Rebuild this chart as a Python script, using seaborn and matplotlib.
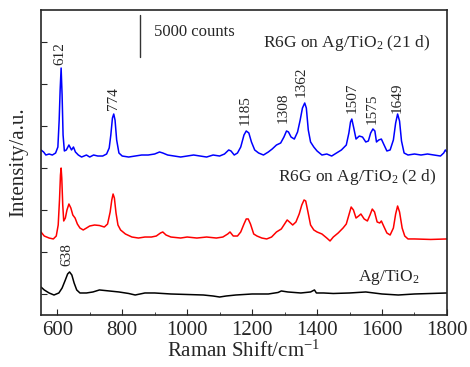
import numpy as np
import pandas as pd
import matplotlib
matplotlib.use("Agg")
import matplotlib.pyplot as plt
import seaborn as sns

# Raman spectra (counts)
shift_agtio2 = [550, 560, 575, 590, 605, 615, 625, 632, 638, 645, 652, 660, 670, 690, 710, 730, 760, 790,
                820, 840, 870, 900, 950, 1000, 1050, 1080, 1100, 1120, 1150, 1200, 1250, 1280, 1290, 1310,
                1350, 1380, 1392, 1398, 1420, 1450, 1500, 1550, 1600, 1650, 1700, 1750, 1800]
int_agtio2 = [830, 480, 120, -120, 120, 710, 1670, 2380, 2620, 2260, 1310, 480, 120, 120, 240, 480, 360, 240,
              60, -120, 120, 120, 0, -60, -120, -240, -360, -240, -120, 0, 0, 180, 360, 240,
              120, 240, 480, 120, 120, 60, 120, 240, 0, -120, 0, 60, 120]

shift_2d = [550, 560, 575, 588, 597, 603, 607, 610, 612, 614, 617, 620, 625, 630, 636, 642, 648, 655, 662,
            670, 680, 690, 700, 715, 730, 745, 755, 763, 768, 772, 776, 781, 787, 795, 810, 830, 850, 870,
            890, 905, 918, 925, 935, 950, 980, 1000, 1030, 1060, 1090, 1110, 1125, 1132, 1142, 1155, 1165,
            1175, 1182, 1188, 1195, 1205, 1215, 1230, 1245, 1260, 1275, 1290, 1300, 1308, 1315, 1325, 1335,
            1345, 1353, 1360, 1365, 1372, 1380, 1390, 1400, 1415, 1430, 1440, 1450, 1465, 1480, 1490, 1498,
            1505, 1512, 1520, 1528, 1535, 1545, 1555, 1563, 1570, 1577, 1585, 1593, 1598, 1605, 1615, 1625,
            1635, 1642, 1648, 1654, 1662, 1670, 1680, 1700, 1750, 1800]
int_2d = [7380, 6900, 6660, 6550, 6900, 8210, 11190, 14160, 14990, 13800, 10590, 8690, 9040, 10000, 10710,
          10230, 9400, 9040, 8330, 7850, 7620, 7850, 8090, 8210, 8150, 7970, 8330, 9760, 11190, 11900, 11420,
          9640, 8210, 7620, 7140, 6780, 6660, 6780, 6780, 6900, 7260, 7380, 7020, 6780, 6660, 6780, 6660,
          6780, 6660, 6780, 7140, 7380, 6900, 6900, 7380, 8330, 8930, 8930, 8330, 7140, 6900, 6660, 6550,
          6780, 7380, 7740, 8330, 8810, 8570, 8210, 8570, 9520, 10590, 11190, 11070, 9760, 8210, 7620, 7380,
          7140, 6660, 6310, 6780, 7260, 7850, 8330, 9400, 10350, 10000, 9040, 9280, 9520, 8930, 8690, 9400,
          10110, 9760, 8570, 8450, 8690, 8090, 7260, 7020, 7850, 9520, 10470, 9760, 7850, 6900, 6550, 6550,
          6490, 6550]

shift_21d = [550, 558, 565, 575, 585, 595, 602, 606, 609, 612, 615, 618, 622, 628, 636, 644, 650, 656, 665,
             675, 690, 700, 712, 725, 740, 752, 760, 765, 770, 774, 778, 783, 790, 800, 820, 840, 860, 880,
             900, 915, 925, 940, 960, 980, 1000, 1020, 1040, 1060, 1080, 1100, 1115, 1128, 1135, 1145, 1155,
             1165, 1175, 1182, 1190, 1198, 1208, 1220, 1235, 1250, 1262, 1275, 1288, 1298, 1306, 1312, 1320,
             1330, 1340, 1348, 1355, 1362, 1367, 1373, 1380, 1390, 1400, 1415, 1430, 1445, 1460, 1475, 1490,
             1498, 1503, 1507, 1513, 1520, 1530, 1540, 1550, 1558, 1565, 1572, 1578, 1583, 1590, 1598, 1605,
             1615, 1625, 1635, 1642, 1648, 1654, 1660, 1668, 1680, 1700, 1720, 1740, 1760, 1780, 1790, 1795,
             1800]
int_21d = [17140, 16900, 16540, 16660, 16540, 16780, 17490, 20700, 24280, 26890, 23690, 18920, 17020, 17140,
           17730, 17140, 17490, 16900, 16540, 16300, 16540, 16300, 16540, 16420, 16420, 16660, 17370, 18920,
           20940, 21420, 20700, 18330, 16780, 16420, 16300, 16420, 16540, 16540, 16660, 16900, 16780, 16540,
           16420, 16300, 16420, 16540, 16420, 16300, 16540, 16420, 16660, 17140, 17020, 16540, 16780, 17490,
           18920, 19400, 19160, 18090, 17140, 16780, 16540, 16900, 17260, 17730, 17970, 18680, 19400, 19280,
           18680, 18440, 19280, 20700, 22130, 22730, 22130, 19520, 18090, 17490, 17020, 16540, 16660, 16420,
           16780, 17140, 17730, 19160, 20470, 20820, 19760, 18440, 18800, 18680, 18090, 18210, 19160, 19640,
           19400, 18090, 18330, 18440, 17850, 17020, 17140, 18330, 20350, 21420, 20580, 18210, 16780, 16540,
           16660, 16540, 16660, 16540, 16420, 16780, 17140, 16900]

# peak labels: (text, x, y of label bottom)
peak_text = ["612", "774", "1185", "1308", "1362", "1507", "1575", "1649", "638"]
peak_x = [608, 772, 1178, 1295, 1350, 1508, 1569, 1646, 630]
peak_y = [27250, 21900, 20110, 20350, 23440, 21540, 20230, 21540, 3330]

# scale bar for 5000 counts
scale_x = 855
scale_lo, scale_hi = 28200, 33200

sns.set_style("ticks")
plt.rcParams['font.family'] = ['Liberation Serif', 'DejaVu Serif']
plt.rcParams['mathtext.fontset'] = 'custom'
plt.rcParams['mathtext.rm'] = 'Liberation Serif'
plt.rcParams['mathtext.it'] = 'Liberation Serif:italic'

frames = []
for name, xs, ys in [("21d", shift_21d, int_21d), ("2d", shift_2d, int_2d), ("ag", shift_agtio2, int_agtio2)]:
    frames.append(pd.DataFrame({"shift": xs, "intensity": ys, "sample": name}))
df = pd.concat(frames, ignore_index=True)

fig = plt.figure(figsize=(4.70, 3.67), dpi=100)
ax = fig.add_axes([0.0872, 0.1417, 0.8638, 0.8311])

sns.lineplot(data=df, x="shift", y="intensity", hue="sample", sort=False,
             palette={"21d": "#0000ff", "2d": "#ff0000", "ag": "black"},
             linewidth=1.1, legend=False, ax=ax)

for t, x, y in zip(peak_text, peak_x, peak_y):
    ax.text(x, y, t, rotation=90, ha="center", va="bottom", fontsize=11)

ax.text(1233, 29870, "R6G on Ag/TiO$_2$ (21 d)", ha="left", va="center", fontsize=12.5)
ax.text(1280, 13920, "R6G on Ag/TiO$_2$ (2 d)", ha="left", va="center", fontsize=12.5)
ax.text(1526, 2020, "Ag/TiO$_2$", ha="left", va="center", fontsize=12.5)

ax.plot([scale_x, scale_x], [scale_lo, scale_hi], color="#333333", linewidth=1)
ax.text(898, 31180, "5000 counts", ha="left", va="center", fontsize=12)

ax.set_xlim(550, 1800)
ax.set_ylim(-2500, 33800)
ax.set_xticks(range(600, 1801, 200))
ax.set_xticks(range(600, 1801, 100), minor=True)
ax.set_yticks(range(0, 33000, 5000))
ax.set_yticklabels([])
ax.tick_params(axis="x", which="both", direction="in", labelsize=15, pad=4)
ax.tick_params(axis="x", which="major", length=4)
ax.tick_params(axis="x", which="minor", length=2)
ax.tick_params(axis="y", direction="in", length=4)
for s in ax.spines.values():
    s.set_linewidth(1.2)

ax.set_xlabel("Raman Shift/cm$^{-1}$", fontsize=15, labelpad=1)
ax.set_ylabel("Intensity/a.u.", fontsize=15, labelpad=6)

fig.savefig("out.png", dpi=100)
